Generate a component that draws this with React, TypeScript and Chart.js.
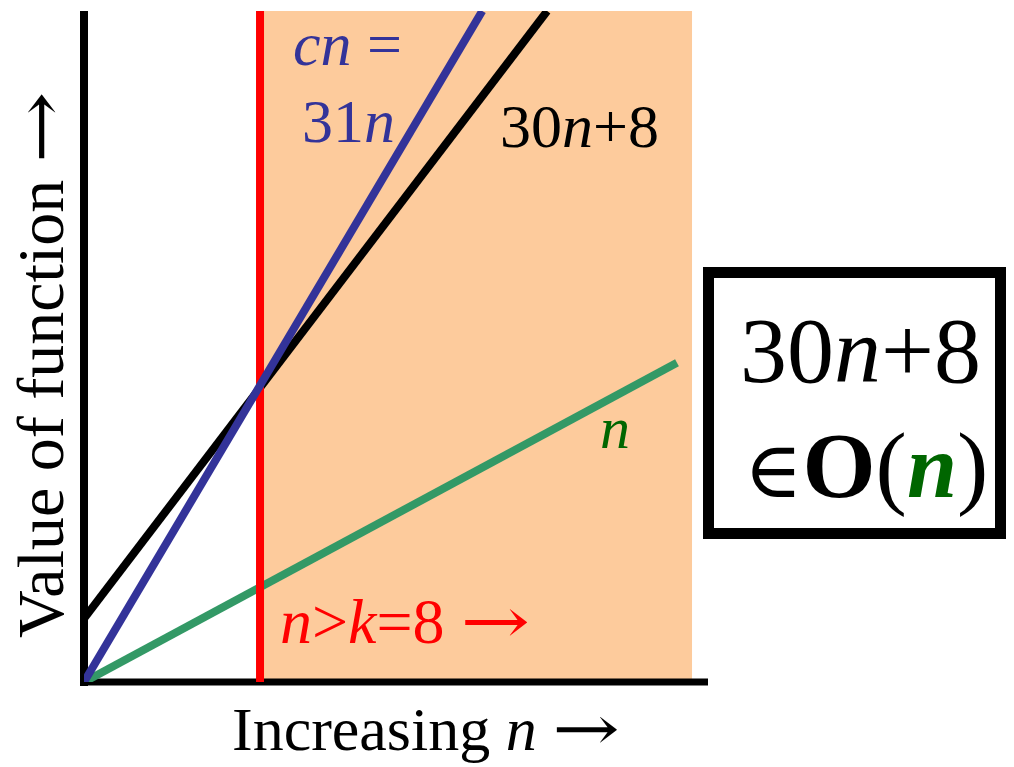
import React, { useEffect, useRef } from "react";
import { Chart, registerables } from "chart.js";

Chart.register(...registerables);

// Horizontal axis: problem size n; vertical axis: value of the function.
const N_MAX = 28.36;
const VALUE_MAX = 561;

// Threshold k and the end of the shaded "n > k" region.
const thresholdK = 8;
const regionEnd = 27.64;

// cn = 31n (blue)
const boundN = [0, 18.1];
const boundValues = [0, 561];

// 30n+8 (black)
const funcN = [0, 21.05];
const funcValues = [53, 561];

// n (green)
const unitN = [0, 26.95];
const unitValues = [0, 267];

const SERIF = '"Liberation Serif", "DejaVu Serif", "Times New Roman", serif';
const ARROW_FONT = '"DejaVu Serif", serif';

const COLORS = {
  region: "#FDCB9C",
  bound: "#333399",
  func: "#000000",
  unit: "#339966",
  unitText: "#006600",
  threshold: "#FF0000",
};

type Run = {
  t: string;
  italic?: boolean;
  bold?: boolean;
  color: string;
  family?: string;
  scale?: number;
  stretch?: number;
};

const zip = (xs: number[], ys: number[]) => xs.map((x, i) => ({ x, y: ys[i] }));

const ARROW = (color: string): Run => ({ t: "\u2192", color, family: ARROW_FONT, stretch: 1.3 });

function drawRuns(ctx: CanvasRenderingContext2D, runs: Run[], x: number, y: number, size: number) {
  let cx = x;
  for (const r of runs) {
    const s = Math.round(size * (r.scale ?? 1));
    const k = r.stretch ?? 1;
    ctx.font = `${r.italic ? "italic " : ""}${r.bold ? "bold " : ""}${s}px ${r.family ?? SERIF}`;
    ctx.fillStyle = r.color;
    ctx.save();
    ctx.translate(cx, y);
    ctx.scale(k, 1);
    ctx.fillText(r.t, 0, 0);
    ctx.restore();
    cx += ctx.measureText(r.t).width * k;
  }
}

const axesPlugin = {
  id: "axesAfterRegion",
  afterDatasetDraw(chart: any, args: any) {
    if (args.index !== 0) return;
    const { ctx } = chart;
    const xs = chart.scales.x;
    const ys = chart.scales.y;
    const x0 = xs.getPixelForValue(0);
    const y0 = ys.getPixelForValue(0);
    const yTop = ys.getPixelForValue(VALUE_MAX);
    const xEnd = xs.getPixelForValue(N_MAX);
    ctx.save();
    ctx.strokeStyle = "#000";
    ctx.lineCap = "butt";
    ctx.lineWidth = 8;
    ctx.beginPath();
    ctx.moveTo(x0, yTop);
    ctx.lineTo(x0, y0 + 4);
    ctx.stroke();
    ctx.lineWidth = 7;
    ctx.beginPath();
    ctx.moveTo(x0 - 4, y0);
    ctx.lineTo(xEnd, y0);
    ctx.stroke();
    ctx.restore();
  },
};

const labelsPlugin = {
  id: "labels",
  afterDatasetsDraw(chart: any) {
    const { ctx } = chart;
    ctx.save();
    ctx.textBaseline = "alphabetic";
    ctx.textAlign = "left";

    drawRuns(ctx, [
      { t: "cn", italic: true, color: COLORS.bound },
      { t: " =", color: COLORS.bound },
    ], 293, 65, 62);
    drawRuns(ctx, [
      { t: "31", color: COLORS.bound },
      { t: "n", italic: true, color: COLORS.bound },
    ], 302, 142, 62);
    drawRuns(ctx, [
      { t: "30", color: COLORS.func },
      { t: "n", italic: true, color: COLORS.func },
      { t: "+8", color: COLORS.func },
    ], 500, 147, 62);
    drawRuns(ctx, [{ t: "n", italic: true, color: COLORS.unitText }], 600, 448, 60);
    drawRuns(ctx, [
      { t: "n", italic: true, color: COLORS.threshold },
      { t: ">", color: COLORS.threshold },
      { t: "k", italic: true, color: COLORS.threshold },
      { t: "=8 ", color: COLORS.threshold },
      ARROW(COLORS.threshold),
    ], 280, 643, 64);

    // axis titles
    drawRuns(ctx, [
      { t: "Increasing ", color: "#000" },
      { t: "n", italic: true, color: "#000" },
      { t: " ", color: "#000" },
      ARROW("#000"),
    ], 232, 750, 62);
    ctx.translate(63, 638);
    ctx.rotate(-Math.PI / 2);
    drawRuns(ctx, [
      { t: "Value of function ", color: "#000" },
      ARROW("#000"),
    ], 0, 0, 66);
    ctx.restore();
  },
  afterDraw(chart: any) {
    const { ctx } = chart;
    ctx.save();
    ctx.strokeStyle = "#000";
    ctx.lineWidth = 11;
    ctx.strokeRect(708.5, 272.5, 292, 261);
    ctx.textBaseline = "alphabetic";
    drawRuns(ctx, [
      { t: "30", color: "#000" },
      { t: "n", italic: true, color: "#000" },
      { t: "+8", color: "#000" },
    ], 740, 382, 94);
    drawRuns(ctx, [
      { t: "\u2208", color: "#000", family: ARROW_FONT, scale: 0.84 },
      { t: "O", bold: true, color: "#000" },
      { t: "(", color: "#000" },
      { t: "n", italic: true, bold: true, color: COLORS.unitText, scale: 0.96 },
      { t: ")", color: "#000" },
    ], 744, 497, 94);
    ctx.restore();
  },
};

export default function App() {
  const canvasRef = useRef<HTMLCanvasElement | null>(null);

  useEffect(() => {
    if (!canvasRef.current) return;
    const lineDefaults = {
      pointRadius: 0,
      pointHoverRadius: 0,
      tension: 0,
      borderWidth: 8,
      borderCapStyle: "butt" as const,
      fill: false,
    };
    const chart = new Chart(canvasRef.current, {
      type: "line",
      data: {
        datasets: [
          {
            label: "n > k",
            data: [
              { x: thresholdK, y: VALUE_MAX },
              { x: regionEnd, y: VALUE_MAX },
            ],
            borderWidth: 0,
            pointRadius: 0,
            backgroundColor: COLORS.region,
            borderColor: "rgba(0,0,0,0)",
            fill: "origin",
            order: 10,
          },
          {
            ...lineDefaults,
            label: "30n+8",
            data: zip(funcN, funcValues),
            borderColor: COLORS.func,
            order: 5,
          },
          {
            ...lineDefaults,
            label: "n",
            data: zip(unitN, unitValues),
            borderColor: COLORS.unit,
            order: 4,
          },
          {
            ...lineDefaults,
            label: "k",
            data: [
              { x: thresholdK, y: 0 },
              { x: thresholdK, y: VALUE_MAX },
            ],
            borderColor: COLORS.threshold,
            order: 3,
          },
          {
            ...lineDefaults,
            label: "cn = 31n",
            data: zip(boundN, boundValues),
            borderColor: COLORS.bound,
            order: 2,
          },
        ],
      },
      options: {
        animation: false,
        responsive: false,
        layout: { padding: { left: 84, right: 306, top: 11, bottom: 85 } },
        scales: {
          x: { type: "linear", min: 0, max: N_MAX, display: false },
          y: { type: "linear", min: 0, max: VALUE_MAX, display: false },
        },
        plugins: {
          legend: { display: false },
          tooltip: { enabled: false },
        },
      },
      plugins: [axesPlugin, labelsPlugin],
    });
    return () => chart.destroy();
  }, []);

  return (
    <div style={{ position: "absolute", left: 0, top: 0, width: 1014, height: 767, background: "#fff" }}>
      <canvas ref={canvasRef} width={1014} height={767} style={{ display: "block" }} />
    </div>
  );
}
